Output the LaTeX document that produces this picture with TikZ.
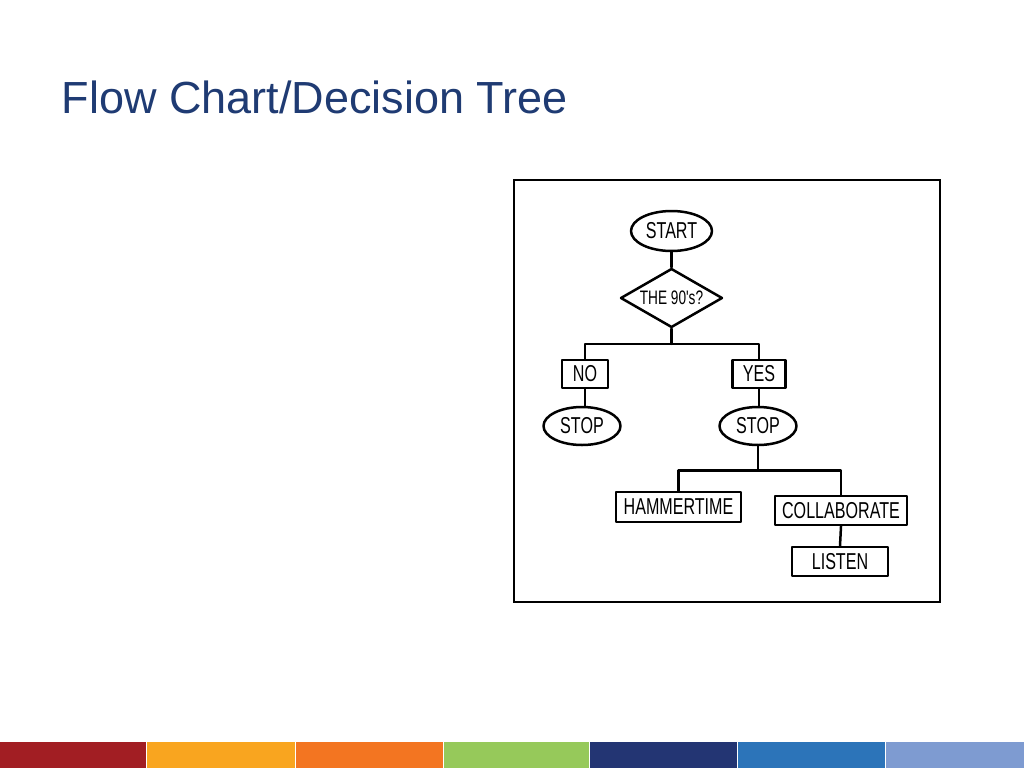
\documentclass[tikz,border=0pt]{standalone}
\usepackage{fontspec}
\setmainfont{Liberation Sans}
\newfontfamily\hand[FakeStretch=0.7]{Liberation Sans}
\usetikzlibrary{shapes.geometric}
\definecolor{titleblue}{HTML}{1F3B73}
\definecolor{barA}{HTML}{A21E23}
\definecolor{barB}{HTML}{F9A51F}
\definecolor{barC}{HTML}{F37521}
\definecolor{barD}{HTML}{96C95A}
\definecolor{barE}{HTML}{233573}
\definecolor{barF}{HTML}{2C74B9}
\definecolor{barG}{HTML}{7E9BD1}
\tikzset{
  comic/.style={line width=2.5pt, line join=round, line cap=round},
  txt/.style={font=\hand\fontsize{23}{26}\selectfont},
  smalltxt/.style={font=\hand\fontsize{19.5}{22}\selectfont},
  oval/.style={comic, draw, ellipse, inner sep=0pt, txt},
  boxnode/.style={comic, draw, rectangle, inner sep=0pt, txt},
  decide/.style={comic, draw, diamond, inner sep=0pt},
  link/.style={comic}
}
\begin{document}
\begin{tikzpicture}[x=1pt,y=-1pt]
  \useasboundingbox[fill=white] (0,0) rectangle (1024,768);
  % title
  \node[anchor=base west, inner sep=0pt, text=titleblue,
        font=\fontsize{45}{54}\selectfont] (title) at (61.5,113) {Flow Chart/Decision Tree};
  % frame
  \draw[line width=2pt] (514,180) rectangle (940,602);
  % nodes
  \node[oval, minimum width=81pt, minimum height=40pt] (start) at (671.5,231) {START};
  \node[decide, minimum width=102pt, minimum height=59pt,
        label={[smalltxt, inner sep=0pt]center:THE 90's?}] (q) at (671.5,298) {};
  \node[boxnode, minimum width=46pt, minimum height=28pt] (no) at (585,374) {NO};
  \node[boxnode, minimum width=53pt, minimum height=28pt] (yes) at (759,374) {YES};
  \node[oval, minimum width=77pt, minimum height=38pt] (stopa) at (582,426) {STOP};
  \node[oval, minimum width=77pt, minimum height=38pt] (stopb) at (758,426) {STOP};
  \node[boxnode, minimum width=125pt, minimum height=30pt] (ham) at (678.5,507) {HAMMERTIME};
  \node[boxnode, minimum width=132pt, minimum height=29pt] (col) at (841,510.5) {COLLABORATE};
  \node[boxnode, minimum width=96pt, minimum height=29pt] (lis) at (840,561.5) {LISTEN};
  % connectors
  \draw[link] (start.south) -- (q.north);
  \draw[link] (q.south) -- ++(0,15) coordinate (ja);
  \draw[link] (no.north) |- (ja) -| (yes.north);
  \draw[link] (no.south) -- (no.south |- stopa.north);
  \draw[link] (yes.south) -- (yes.south |- stopb.north);
  \draw[link] (stopb.south) -- ++(0,24) coordinate (jb);
  \draw[link] (ham.north) |- (jb) -| (col.north);
  \draw[link] (col.south) -- (lis.north);
  % bottom colour bar
  \fill[barA] (0,742) rectangle (146,768);
  \fill[barB] (147,742) rectangle (294.5,768);
  \fill[barC] (295.5,742) rectangle (442.5,768);
  \fill[barD] (443.5,742) rectangle (589,768);
  \fill[barE] (590,742) rectangle (736.5,768);
  \fill[barF] (737.5,742) rectangle (884.5,768);
  \fill[barG] (885.5,742) rectangle (1024,768);
\end{tikzpicture}
\end{document}
